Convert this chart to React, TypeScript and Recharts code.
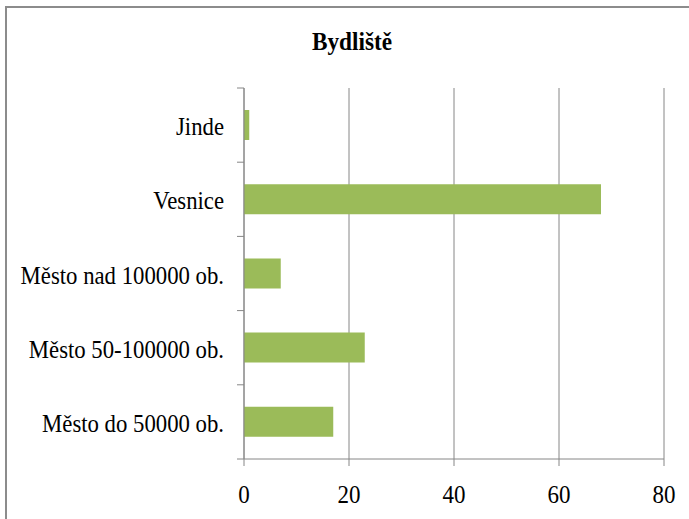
import React from 'react';
import { BarChart, Bar, XAxis, YAxis, CartesianGrid } from 'recharts';

const categories = ['Jinde', 'Vesnice', 'Město nad 100000 ob.', 'Město 50-100000 ob.', 'Město do 50000 ob.'];
const values = [1, 68, 7, 23, 17];
const xTicks = [0, 20, 40, 60, 80];

const data = categories.map((name, i) => ({ name, value: values[i] }));

const FONT = '"Liberation Serif", "Times New Roman", serif';
const GRID = '#868686';
const AXIS_X = 244;

const YTick = (props: any) => {
  const { y, payload, index, visibleTicksCount } = props;
  const half = payload && payload.offset ? payload.offset : 37;
  return (
    <g>
      <line x1={AXIS_X - 7} x2={AXIS_X} y1={y - half} y2={y - half} stroke={GRID} strokeWidth={1} />
      {index === visibleTicksCount - 1 && (
        <line x1={AXIS_X - 7} x2={AXIS_X} y1={y + half} y2={y + half} stroke={GRID} strokeWidth={1} />
      )}
      <text
        transform={`translate(${AXIS_X - 20},${y}) scale(0.91,1)`}
        textAnchor="end"
        dy="0.4em"
        style={{ fontFamily: FONT, fontSize: 25 }}
        fill="#000"
      >
        {payload.value}
      </text>
    </g>
  );
};

const XTick = (props: any) => {
  const { x, y, payload } = props;
  return (
    <text
      transform={`translate(${x},${y}) scale(0.92,1)`}
      textAnchor="middle"
      dy="0.71em"
      style={{ fontFamily: FONT, fontSize: 25 }}
      fill="#000"
    >
      {payload.value}
    </text>
  );
};

export default function App() {
  return (
    <div style={{ position: 'absolute', left: 0, top: 0, width: 689, height: 519, overflow: 'hidden', background: '#fff' }}>
      <div
        style={{
          position: 'absolute',
          left: 5,
          top: 6,
          width: 720,
          height: 560,
          borderTop: '2px solid #8c8c8c',
          borderLeft: '2px solid #8c8c8c',
        }}
      />
      <div
        style={{
          position: 'absolute',
          left: 0,
          top: 29,
          width: 704,
          textAlign: 'center',
          fontFamily: FONT,
          fontWeight: 'bold',
          fontSize: 25,
          lineHeight: '25px',
          transform: 'scaleX(0.93)',
          color: '#000',
        }}
      >
        Bydliště
      </div>
      <div style={{ position: 'absolute', left: 0, top: 0 }}>
        <BarChart
          width={689}
          height={519}
          data={data}
          layout="vertical"
          margin={{ top: 88, right: 25, bottom: 0, left: 0 }}
        >
          <CartesianGrid horizontal={false} stroke={GRID} />
          <XAxis
            type="number"
            domain={[0, 80]}
            ticks={xTicks}
            interval={0}
            height={60}
            tickSize={7}
            tickMargin={19}
            axisLine={{ stroke: GRID }}
            tickLine={{ stroke: GRID }}
            tick={<XTick />}
          />
          <YAxis
            type="category"
            dataKey="name"
            width={244}
            tickLine={false}
            axisLine={{ stroke: GRID }}
            tick={<YTick />}
            interval={0}
          />
          <Bar dataKey="value" fill="#9bbb59" barSize={30} isAnimationActive={false} />
        </BarChart>
      </div>
    </div>
  );
}
